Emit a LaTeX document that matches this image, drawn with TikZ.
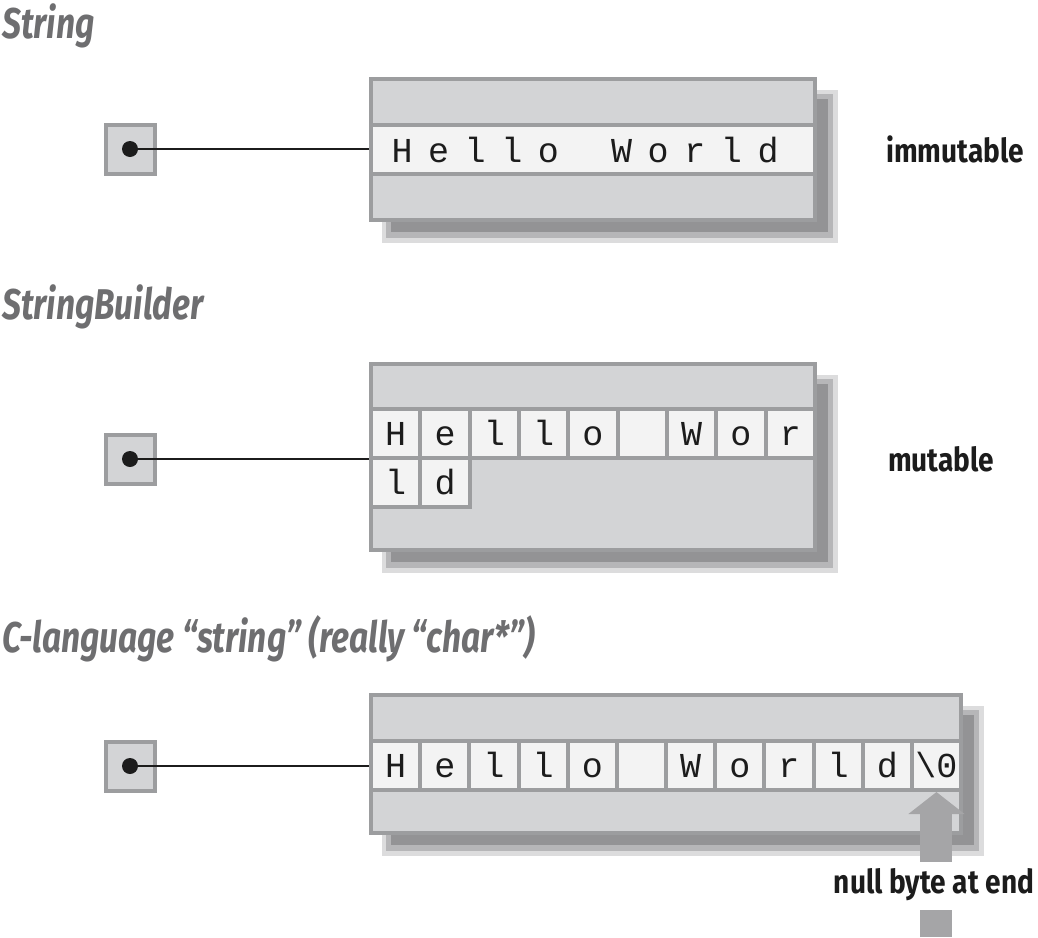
\documentclass[tikz,border=0pt]{standalone}
\usepackage{fontspec}
\setmainfont{Fira Sans}
\newfontfamily\titlefont[FakeStretch=0.78]{Fira Sans}
\newfontfamily\notefont[FakeStretch=0.85]{Fira Sans}
\newfontfamily\charfont{Liberation Mono}
\usetikzlibrary{arrows.meta,positioning}
\definecolor{boxfill}{HTML}{D3D4D6}
\definecolor{boxline}{HTML}{9C9D9F}
\definecolor{cellfill}{HTML}{F3F3F3}
\definecolor{ink}{HTML}{1C1C1C}
\definecolor{titlegray}{HTML}{6E6E70}
\definecolor{arrowgray}{HTML}{A5A5A7}
\definecolor{shadedark}{HTML}{939395}
\definecolor{shademid}{HTML}{B6B6B8}
\definecolor{shadelight}{HTML}{DCDCDD}
% soft shadow behind a frame given by its outer corners
\newcommand{\dropshadow}[4]{%
  \fill[shadelight] (#1+13,#2+13) rectangle (#3+21,#4+21);
  \fill[shademid] (#1+17,#2+17) rectangle (#3+16,#4+16);
  \fill[shadedark] (#1+22,#2+22) rectangle (#3+11,#4+10);}

\begin{document}
\begin{tikzpicture}[x=1pt,y=-1pt,
  frame/.style={draw=boxline,line width=4pt,fill=boxfill,inner sep=0pt},
  cell/.style={draw=boxline,line width=4pt,fill=cellfill,inner sep=0pt,minimum height=49pt,text height=24pt,text depth=0pt,text=ink,font=\charfont\fontsize{35}{35}\selectfont},
  glyph/.style={anchor=base,inner sep=0pt,text=ink,font=\charfont\fontsize{35}{35}\selectfont},
  ptrbox/.style={frame,minimum size=49pt},
  dot/.style={circle,fill=ink,inner sep=0pt,minimum size=16pt},
  ptr/.style={draw=ink,line width=1.5pt},
  title/.style={anchor=base west,inner sep=0pt,text=titlegray,font=\titlefont\bfseries\itshape\fontsize{43}{43}\selectfont},
  note/.style={anchor=base west,inner sep=0pt,text=ink,font=\notefont\bfseries\fontsize{33}{33}\selectfont},
  nullarrow/.style={draw=arrowgray,line width=32pt,-{Triangle[length=22pt,width=55pt]}}]
\useasboundingbox (0,0) rectangle (1038,937);

% String
\node[title] (titleA) at (2,38) {String};
\dropshadow{369}{77}{817}{222}
\node[frame,minimum width=444pt,minimum height=141pt] (boxA) at (593,149.5) {};
\node[cell,minimum width=444pt] (stripA) at (593,149.5) {};
\foreach \ch [count=\i from 0] in {H,e,l,l,o,{},W,o,r,l,d}
  \node[glyph] (chA\i) at (402+36.6*\i,162) {\ch};
\node[ptrbox] (ptrA) at (130,149) {};
\node[dot] (dotA) at (ptrA.center) {};
\draw[ptr] (dotA.center) -- (dotA.center -| boxA.west);
\node[note] (noteA) at (886,162) {immutable};

% StringBuilder
\node[title] (titleB) at (2,319) {StringBuilder};
\dropshadow{369}{362}{817}{552}
\node[frame,minimum width=444pt,minimum height=186pt] (boxB) at (593,457) {};
\foreach \ch [count=\i from 0] in {H,e,l,l,o,{},W,o,r}
  \node[cell,minimum width=49.33pt] (cellB\i) at (395.67+49.33*\i,433.5) {\ch};
\foreach \ch [count=\i from 0] in {l,d}
  \node[cell,minimum width=49.33pt] (cellBB\i) at (395.67+49.33*\i,482.5) {\ch};
\node[ptrbox] (ptrB) at (130,459) {};
\node[dot] (dotB) at (ptrB.center) {};
\draw[ptr] (dotB.center) -- (dotB.center -| boxB.west);
\node[note] (noteB) at (888,471) {mutable};

% C string
\node[title] (titleC) at (2,652) {C-language “string” (really “char*”)};
\dropshadow{369}{693}{963}{835}
\node[frame,minimum width=590pt,minimum height=138pt] (boxC) at (666,764) {};
\foreach \ch [count=\i from 0] in {H,e,l,l,o,{},W,o,r,l,d,{\textbackslash0}}
  \node[cell,minimum width=49.17pt] (cellC\i) at (395.58+49.17*\i,765.5) {\ch};
\node[ptrbox] (ptrC) at (130,766) {};
\node[dot] (dotC) at (ptrC.center) {};
\draw[ptr] (dotC.center) -- (dotC.center -| boxC.west);
\coordinate (nulltail) at (cellC11.center |- 0,937);
\draw[nullarrow] (nulltail) -- (cellC11.south);
\node[note,anchor=base,fill=white,text height=31pt,text depth=17pt] (noteC) at (934,893) {null byte at end};
\end{tikzpicture}
\end{document}
